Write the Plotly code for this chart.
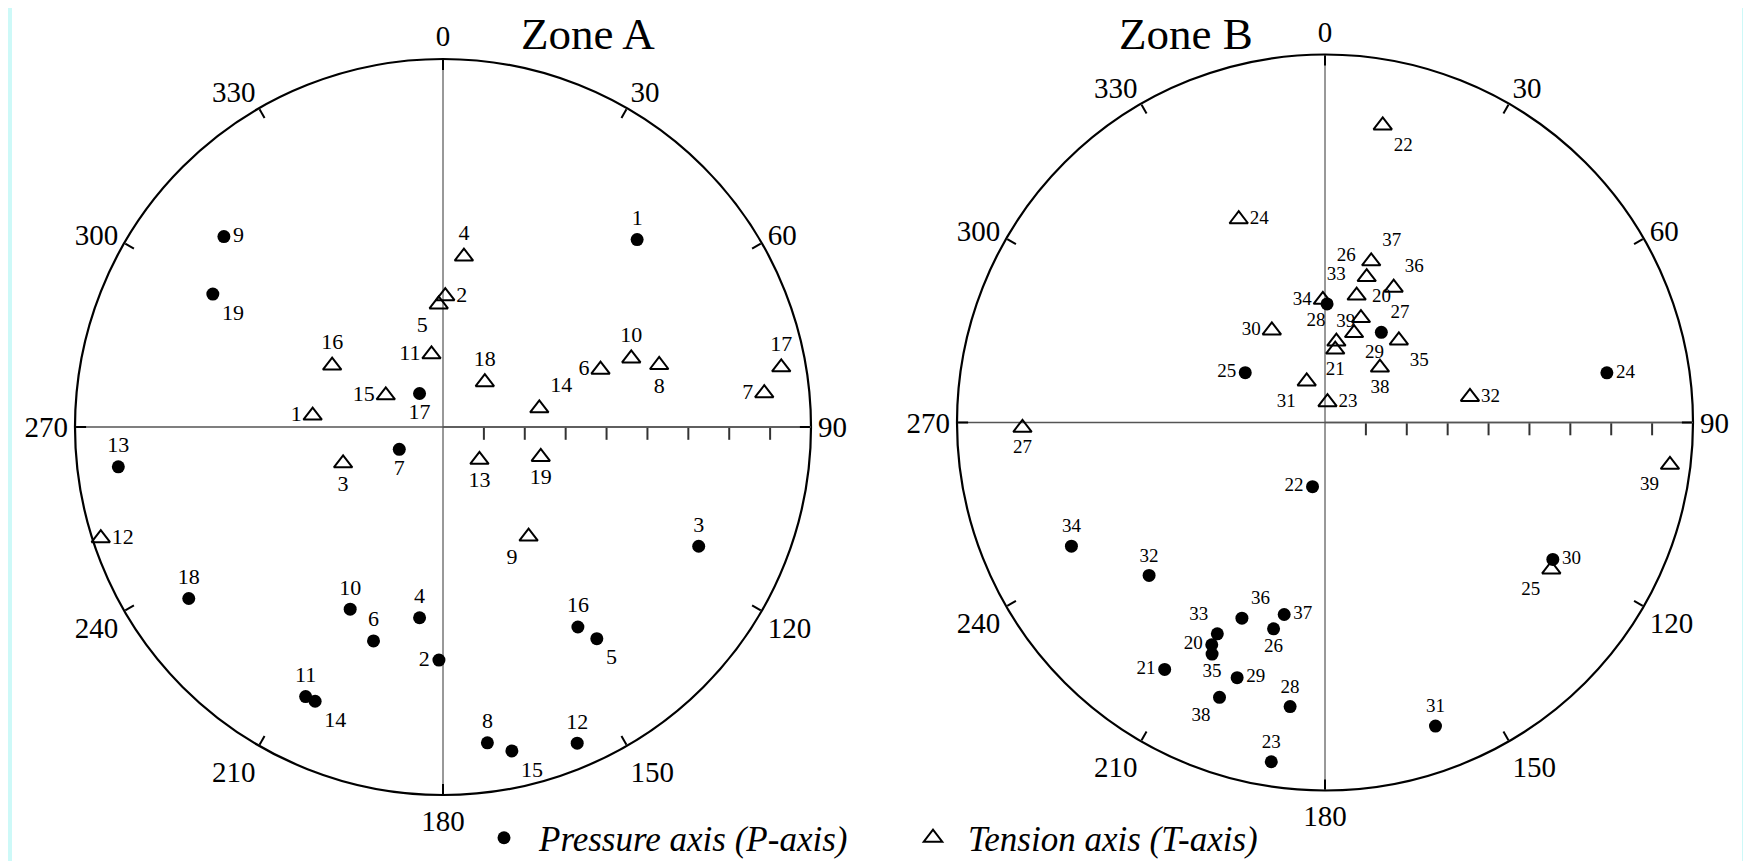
import plotly.graph_objects as go

# ---------------- Zone A (events 1-19) ----------------
a_ids = list(range(1, 20))
a_p_trend = [46, 181, 115, 187, 144, 198, 243, 172, 311, 207, 207, 157, 263, 205, 168, 146, 325, 236, 300]
a_p_plunge = [24, 33, 21, 43, 26, 35, 78, 12, 19, 40, 16, 6, 10, 16, 9, 31, 80, 15, 25]
a_t_trend = [275, 1, 250, 7, 358, 70, 84, 74, 142, 70, 351, 252, 132, 79, 299, 299, 80, 43, 107]
a_t_plunge = [58, 58, 64, 48, 60, 49, 11, 35, 56, 41, 72, 2, 78, 66, 74, 59, 6, 75, 65]

# ---------------- Zone B (events 20-39) ----------------
b_ids = list(range(20, 40))
b_p_trend = [207, 213, 191, 189, 80, 302, 194, 32, 187, 199, 121, 160, 229, 207, 244, 206, 203, 192, 201, 1]
b_p_plunge = [29, 18, 74, 6, 20, 67, 38, 64, 20, 24, 25, 11, 33, 32, 21, 27, 38, 42, 18, 61]
b_t_trend = [19, 8, 11, 7, 337, 123, 16, 269, 8, 18, 330, 336, 80, 14, 359, 42, 27, 16, 45, 97]
b_t_plunge = [63, 72, 16, 85, 36, 24, 53, 16, 70, 67, 64, 79, 54, 58, 60, 63, 53, 49, 71, 5]

angle_ticks = [0, 30, 60, 90, 120, 150, 180, 210, 240, 270, 300, 330]
radial_ticks = [10, 20, 30, 40, 50, 60, 70, 80]
zone_titles = ["Zone A", "Zone B"]
legend_names = ["Pressure axis (P-axis)", "Tension axis (T-axis)"]

# label placement (style only)
a_p_pos = ["top center", "middle left", "top center", "top center", "bottom right", "top center",
           "bottom center", "top center", "middle right", "top center", "top center", "top center",
           "top center", "bottom right", "bottom right", "top center", "bottom center", "top center",
           "bottom right"]
a_t_pos = ["middle left", "middle right", "bottom center", "top center", "bottom left", "middle left",
           "middle left", "bottom center", "bottom left", "top center", "middle left", "middle right",
           "bottom center", "top right", "middle left", "top center", "top center", "top center",
           "bottom center"]
b_p_pos = ["middle left", "middle left", "middle left", "top center", "middle right", "middle left",
           "bottom center", "top right", "top center", "middle right", "middle right", "top center",
           "top center", "top left", "top center", "bottom center", "top right", "middle right",
           "bottom left", "bottom right"]
b_t_pos = ["top right", "bottom center", "bottom right", "middle right", "middle right", "bottom left",
           "top left", "bottom center", "top left", "bottom right", "middle left", "bottom left",
           "middle right", "top left", "middle left", "bottom right", "top right", "top right",
           "bottom center", "bottom left"]

SERIF = "Liberation Serif, 'Times New Roman', 'DejaVu Serif', serif"
OFF = 8                      # page body margin of the html file
W, H = 1751 - OFF, 861 - OFF


def fx(px):                  # page pixel -> paper fraction (x)
    return (px - OFF) / W


def fy(py):                  # page pixel -> paper fraction (y)
    return 1 - (py - OFF) / H


fig = go.Figure()


def add_zone(polar, ids, p_tr, p_pl, p_pos, t_tr, t_pl, t_pos, lab_size, show_leg):
    # N-S and E-W diameters
    fig.add_trace(go.Scatterpolar(theta=[0, 180], r=[90, 90], mode="lines",
                                  line=dict(color="#333333", width=1), subplot=polar,
                                  showlegend=False, hoverinfo="skip"))
    fig.add_trace(go.Scatterpolar(theta=[270, 90], r=[90, 90], mode="lines",
                                  line=dict(color="#555555", width=1.6), subplot=polar,
                                  showlegend=False, hoverinfo="skip"))
    fig.add_trace(go.Scatterpolar(
        theta=t_tr, r=[90 - p for p in t_pl], mode="markers+text",
        text=[str(i) for i in ids], textposition=t_pos,
        textfont=dict(family=SERIF, size=lab_size, color="black"),
        marker=dict(symbol="triangle-up-open", size=16, color="black",
                    line=dict(width=2, color="black")),
        name=legend_names[1], legendgroup="T", showlegend=show_leg, subplot=polar,
        legendrank=2))
    fig.add_trace(go.Scatterpolar(
        theta=p_tr, r=[90 - p for p in p_pl], mode="markers+text",
        text=[str(i) for i in ids], textposition=p_pos,
        textfont=dict(family=SERIF, size=lab_size, color="black"),
        marker=dict(symbol="circle", size=13, color="black"),
        name=legend_names[0], legendgroup="P", showlegend=show_leg, subplot=polar,
        legendrank=1))


add_zone("polar", a_ids, a_p_trend, a_p_plunge, a_p_pos, a_t_trend, a_t_plunge, a_t_pos, 22, True)
add_zone("polar2", b_ids, b_p_trend, b_p_plunge, b_p_pos, b_t_trend, b_t_plunge, b_t_pos, 19, False)


def polar_layout(cx, cy, R):
    return dict(
        domain=dict(x=[fx(cx - R), fx(cx + R)], y=[fy(cy + R), fy(cy - R)]),
        bgcolor="white",
        angularaxis=dict(rotation=90, direction="clockwise", tickmode="array",
                         tickvals=angle_ticks, ticktext=[str(v) for v in angle_ticks],
                         ticks="inside", ticklen=10, tickwidth=1.5, tickcolor="black",
                         showline=True, linecolor="black", linewidth=2.2, showgrid=False,
                         tickfont=dict(family=SERIF, size=29, color="black")),
        radialaxis=dict(range=[0, 90], angle=0, showline=True, linecolor="#555555", linewidth=1.6,
                        ticks="outside", ticklen=12, tickwidth=1.5, tickcolor="#333333",
                        tickmode="array", tickvals=radial_ticks, showticklabels=False,
                        showgrid=False),
    )


fig.update_layout(
    width=W, height=H,
    margin=dict(l=0, r=0, t=0, b=0, pad=0, autoexpand=False),
    paper_bgcolor="#cdf9f8",
    plot_bgcolor="white",
    polar=polar_layout(443, 427, 368),
    polar2=polar_layout(1325, 422.5, 368),
    showlegend=True,
    legend=dict(orientation="h", x=fx(469), xanchor="left", y=fy(838), yanchor="middle",
                bgcolor="rgba(0,0,0,0)", itemwidth=60, entrywidth=354, entrywidthmode="pixels",
                font=dict(family=SERIF, size=35, color="black", style="italic"),
                traceorder="normal"),
    shapes=[dict(type="rect", xref="paper", yref="paper", x0=fx(12), x1=fx(1742), y0=-0.05, y1=1.05,
                 fillcolor="white", line=dict(width=0), layer="below")],
    annotations=[
        dict(text=zone_titles[0], x=fx(588), y=1.0, xref="paper", yref="paper",
             xanchor="center", yanchor="top", showarrow=False, borderpad=0,
             font=dict(family=SERIF, size=45, color="black")),
        dict(text=zone_titles[1], x=fx(1186), y=1.0, xref="paper", yref="paper",
             xanchor="center", yanchor="top", showarrow=False, borderpad=0,
             font=dict(family=SERIF, size=45, color="black")),
    ],
)

fig.write_html("out.html")
